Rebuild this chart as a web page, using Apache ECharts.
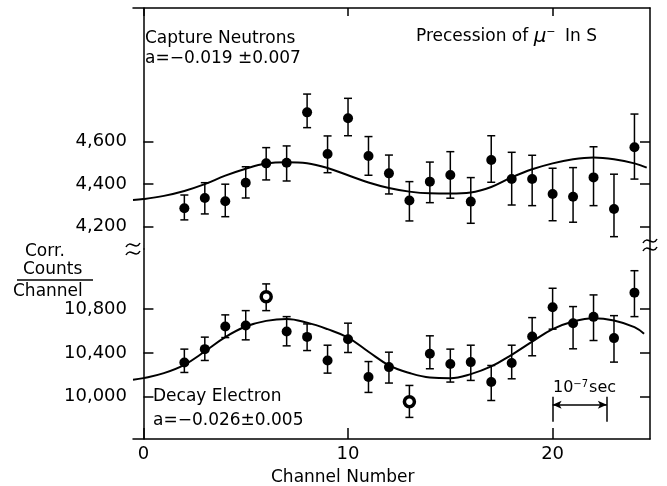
<!DOCTYPE html>
<html>
<head>
<meta charset="utf-8">
<script src="https://cdn.jsdelivr.net/npm/echarts@6/dist/echarts.min.js"></script>
<style>
  html, body { margin: 0; padding: 0; background: #fff; }
  #chart { width: 667px; height: 486px; }
</style>
</head>
<body>
<div id="chart"></div>
<script>
// channels with data points
const channels = [2, 3, 4, 5, 6, 7, 8, 9, 10, 11, 12, 13, 14, 15, 16, 17, 18, 19, 20, 21, 22, 23, 24];

// capture neutrons (upper panel)
const neutronCounts = [4287, 4335, 4320, 4407, 4498, 4501, 4738, 4542, 4710, 4533, 4451, 4323, 4412, 4443, 4318, 4514, 4424, 4424, 4354, 4341, 4432, 4283, 4574];
const neutronLow = [4232, 4260, 4247, 4335, 4420, 4415, 4666, 4454, 4628, 4442, 4354, 4227, 4313, 4334, 4216, 4409, 4302, 4299, 4228, 4221, 4299, 4153, 4424];
const neutronHigh = [4349, 4407, 4400, 4482, 4572, 4580, 4824, 4627, 4804, 4624, 4537, 4412, 4504, 4553, 4431, 4628, 4550, 4536, 4475, 4478, 4576, 4447, 4730];
const neutronFitX = [-0.51, 0, 1, 2, 3, 4, 5, 6, 7, 8, 9, 10, 11, 12, 13, 14, 15, 16, 17, 18, 19, 20, 21, 22, 23, 24, 24.6];
const neutronFitY = [4326, 4330, 4345, 4368, 4400, 4440, 4473, 4497, 4503, 4498, 4476, 4442, 4408, 4382, 4365, 4357, 4356, 4361, 4387, 4432, 4470, 4498, 4517, 4525, 4517, 4498, 4478];

// decay electrons (lower panel)
const electronCounts = [10311, 10434, 10641, 10650, 10915, 10595, 10546, 10330, 10525, 10178, 10269, 9952, 10391, 10297, 10315, 10132, 10306, 10549, 10818, 10672, 10730, 10535, 10952];
const electronLow = [10220, 10330, 10540, 10519, 10787, 10464, 10421, 10214, 10403, 10037, 10123, 9808, 10254, 10132, 10147, 9963, 10162, 10373, 10617, 10437, 10513, 10315, 10732];
const electronHigh = [10434, 10544, 10748, 10787, 11032, 10732, 10665, 10470, 10672, 10320, 10406, 10101, 10556, 10434, 10470, 10284, 10470, 10723, 10992, 10824, 10931, 10741, 11153];
const electronOpen = [6, 13];
const electronFitX = [-0.51, 0, 1, 2, 3, 4, 5, 6, 7, 8, 9, 10, 11, 12, 13, 14, 15, 16, 17, 18, 19, 20, 21, 22, 23, 24, 24.47];
const electronFitY = [10153, 10168, 10214, 10290, 10412, 10544, 10641, 10693, 10711, 10677, 10617, 10540, 10410, 10285, 10215, 10174, 10168, 10205, 10275, 10382, 10503, 10617, 10687, 10718, 10696, 10635, 10574];

// tick labels
const xTicks = [0, 10, 20];
const neutronTicks = [4200, 4400, 4600];
const electronTicks = [10000, 10400, 10800];

// 10^-7 sec period marker (channel start/end, count levels)
const periodChannels = [20, 22.65];
const periodLevels = [9768, 9997, 9924];

const FONT = '"DejaVu Sans", sans-serif';

const chart = echarts.init(document.getElementById('chart'), null, { renderer: 'canvas' });

function pairs(xs, ys) {
    return xs.map((x, i) => [x, ys[i]]);
}

function errorData(vals, lo, hi) {
    return channels.map((c, i) => [c, vals[i], lo[i], hi[i]]);
}

// vertical error bar with caps
function renderError(params, api) {
    const x = api.value(0);
    const top = api.coord([x, api.value(3)]);
    const bot = api.coord([x, api.value(2)]);
    const w = 4;
    const st = { stroke: '#000', lineWidth: 1.5 };
    return {
        type: 'group',
        children: [
            { type: 'line', shape: { x1: top[0], y1: top[1], x2: bot[0], y2: bot[1] }, style: st },
            { type: 'line', shape: { x1: top[0] - w, y1: top[1], x2: top[0] + w, y2: top[1] }, style: st },
            { type: 'line', shape: { x1: bot[0] - w, y1: bot[1], x2: bot[0] + w, y2: bot[1] }, style: st }
        ]
    };
}

const commaFmt = v => v.toLocaleString('en-US');

const axisLine = { show: true, lineStyle: { color: '#000', width: 1.5 } };

function yAxisDef(grid, min, max, ticks, pos, labels) {
    return {
        type: 'value',
        gridIndex: grid,
        position: pos,
        min: min,
        max: max,
        axisLine: axisLine,
        splitLine: { show: false },
        axisTick: { show: true, inside: true, length: 10, customValues: ticks, lineStyle: { color: '#000', width: 1.5 } },
        axisLabel: {
            show: labels,
            customValues: ticks,
            formatter: commaFmt,
            color: '#000',
            fontFamily: FONT,
            fontSize: 18,
            margin: 6
        }
    };
}

function tilde(x, y) {
    return {
        type: 'bezierCurve',
        shape: { x1: x - 7, y1: y + 2, cpx1: x - 3, cpy1: y - 6, cpx2: x + 3, cpy2: y + 6, x2: x + 7, y2: y - 2 },
        style: { stroke: '#000', lineWidth: 1.5, fill: null },
        z: 100
    };
}

function label(text, left, top, size, extra) {
    return Object.assign({
        type: 'text',
        left: left,
        top: top,
        style: { text: text, font: size + 'px ' + FONT, fill: '#000' },
        z: 100
    }, extra || {});
}

const option = {
    animation: false,
    backgroundColor: '#fff',
    grid: [
        { left: 133, right: 17, top: 8, height: 241 },
        { left: 133, right: 17, top: 249, bottom: 47 }
    ],
    xAxis: [
        {
            type: 'value', gridIndex: 0, position: 'top', min: -0.51, max: 24.76,
            axisLine: axisLine, splitLine: { show: false },
            axisTick: { show: true, inside: true, length: 8, customValues: xTicks, lineStyle: { color: '#000', width: 1.5 } },
            axisLabel: { show: false }
        },
        {
            type: 'value', gridIndex: 1, position: 'bottom', min: -0.51, max: 24.76,
            axisLine: axisLine, splitLine: { show: false },
            axisTick: { show: true, inside: true, length: 11, customValues: xTicks, lineStyle: { color: '#000', width: 1.5 } },
            axisLabel: { customValues: xTicks, color: '#000', fontFamily: FONT, fontSize: 18, margin: 6 }
        }
    ],
    yAxis: [
        yAxisDef(0, 4095, 5229, neutronTicks, 'left', true),
        yAxisDef(0, 4095, 5229, neutronTicks, 'right', false),
        yAxisDef(1, 9610, 11352, electronTicks, 'left', true),
        yAxisDef(1, 9610, 11352, electronTicks, 'right', false)
    ],
    series: [
        {
            name: 'Neutron fit', type: 'line', xAxisIndex: 0, yAxisIndex: 0,
            data: pairs(neutronFitX, neutronFitY), smooth: 0.4, showSymbol: false,
            lineStyle: { color: '#000', width: 2 }
        },
        {
            name: 'Neutron errors', type: 'custom', xAxisIndex: 0, yAxisIndex: 0,
            data: errorData(neutronCounts, neutronLow, neutronHigh),
            renderItem: renderError, encode: { x: 0, y: [1, 2, 3] }
        },
        {
            name: 'Capture Neutrons', type: 'scatter', xAxisIndex: 0, yAxisIndex: 0,
            data: pairs(channels, neutronCounts), symbolSize: 10,
            itemStyle: { color: '#000', opacity: 1 }, z: 5
        },
        {
            name: 'Electron fit', type: 'line', xAxisIndex: 1, yAxisIndex: 2,
            data: pairs(electronFitX, electronFitY), smooth: 0.4, showSymbol: false,
            lineStyle: { color: '#000', width: 2 },
            markLine: {
                silent: true,
                symbol: ['none', 'none'],
                label: { show: false },
                lineStyle: { color: '#000', width: 1.5, type: 'solid' },
                data: [
                    [{ coord: [periodChannels[0], periodLevels[0]] }, { coord: [periodChannels[0], periodLevels[1]] }],
                    [{ coord: [periodChannels[1], periodLevels[0]] }, { coord: [periodChannels[1], periodLevels[1]] }],
                    [
                        { coord: [periodChannels[0], periodLevels[2]], symbol: 'arrow', symbolSize: [6, 9] },
                        { coord: [periodChannels[1], periodLevels[2]], symbol: 'arrow', symbolSize: [6, 9] }
                    ]
                ]
            }
        },
        {
            name: 'Electron errors', type: 'custom', xAxisIndex: 1, yAxisIndex: 2,
            data: errorData(electronCounts, electronLow, electronHigh),
            renderItem: renderError, encode: { x: 0, y: [1, 2, 3] }
        },
        {
            name: 'Decay Electron', type: 'scatter', xAxisIndex: 1, yAxisIndex: 2,
            data: channels.map((c, i) => {
                const item = { value: [c, electronCounts[i]] };
                if (electronOpen.indexOf(c) >= 0) {
                    item.itemStyle = { color: '#fff', borderColor: '#000', borderWidth: 3.5, opacity: 1 };
                }
                return item;
            }),
            symbolSize: 10,
            itemStyle: { color: '#000', opacity: 1 }, z: 5
        }
    ],
    graphic: [
        label('Capture Neutrons', 145, 30, 17),
        label('a=\u22120.019 \u00b10.007', 145, 50, 17),
        {
            type: 'text', left: 416, top: 27, z: 100,
            style: {
                text: '{a|Precession of }{mu|\u03bc}{sup|\u2212}{a| In S}',
                rich: {
                    a: { font: '17px ' + FONT, fill: '#000' },
                    mu: { font: 'italic 20px ' + FONT, fill: '#000' },
                    sup: { font: '11px ' + FONT, fill: '#000', verticalAlign: 'top', padding: [0, 4, 8, 0] }
                }
            }
        },
        label('Decay Electron', 153, 388, 17),
        label('a=\u22120.026\u00b10.005', 153, 412, 17),
        {
            type: 'text', left: 553, top: 379, z: 100,
            style: {
                text: '{a|10}{sup|\u22127}{a|sec}',
                rich: {
                    a: { font: '16px ' + FONT, fill: '#000' },
                    sup: { font: '10px ' + FONT, fill: '#000', verticalAlign: 'top', padding: [0, 1, 8, 0] }
                }
            }
        },
        label('Channel Number', 271, 469, 17),
        label('Corr.', 25, 243, 17),
        label('Counts', 23, 261, 17),
        { type: 'line', shape: { x1: 17, y1: 280, x2: 93, y2: 280 }, style: { stroke: '#000', lineWidth: 1.5 }, z: 100 },
        label('Channel', 13, 283, 17),
        tilde(133, 245),
        tilde(133, 253),
        tilde(650, 241),
        tilde(650, 249)
    ]
};

chart.setOption(option);
</script>
</body>
</html>
